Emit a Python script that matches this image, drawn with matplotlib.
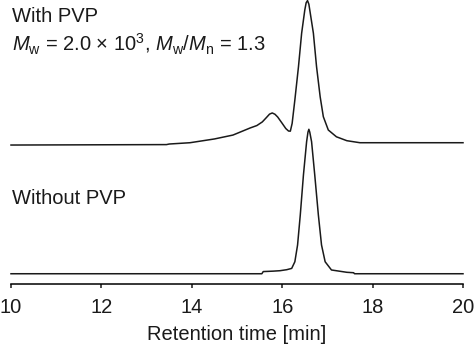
import numpy as np
import matplotlib.pyplot as plt

plt.rcParams['font.family'] = ['Liberation Sans', 'DejaVu Sans']
plt.rcParams['mathtext.fontset'] = 'custom'
plt.rcParams['mathtext.rm'] = 'Liberation Sans'
plt.rcParams['mathtext.it'] = 'Liberation Sans:italic'

# retention time [min] and normalised detector signal
t_with = [10.0, 13.44, 13.5, 13.96, 14.5, 14.91, 15.29, 15.44, 15.56, 15.65, 15.72,
          15.78, 15.84, 15.9, 16.0, 16.08, 16.14, 16.18, 16.22, 16.28, 16.36, 16.43,
          16.50, 16.53, 16.56, 16.59, 16.61, 16.69, 16.76, 16.84, 16.91, 17.02,
          17.2, 17.43, 17.72, 20.0]
s_with = [0.0, 0.003, 0.007, 0.016, 0.042, 0.069, 0.118, 0.135, 0.16, 0.19, 0.214,
          0.222, 0.213, 0.194, 0.15, 0.114, 0.097, 0.096, 0.15, 0.312, 0.542, 0.774,
          0.935, 0.985, 1.0, 0.975, 0.935, 0.774, 0.542, 0.334, 0.196, 0.104,
          0.057, 0.030, 0.016, 0.016]

t_without = [10.0, 15.55, 15.58, 15.8, 15.95, 16.1, 16.21, 16.28, 16.34, 16.40, 16.47,
             16.54, 16.57, 16.59, 16.61, 16.65, 16.72, 16.80, 16.87, 16.95, 17.09,
             17.43, 17.58, 17.6, 20.0]
s_without = [0.0, 0.0, 0.015, 0.018, 0.021, 0.028, 0.037, 0.083, 0.199, 0.407, 0.684,
             0.914, 0.98, 1.0, 0.98, 0.914, 0.684, 0.407, 0.199, 0.083, 0.026,
             0.01, 0.007, 0.0, 0.0]

offset = 0.891

fig = plt.figure(figsize=(4.74, 3.47), dpi=100)
ax = fig.add_axes([11 / 474, 63 / 347, 452 / 474, 284 / 347])

ax.plot(t_with, np.array(s_with) + offset, color='#1a1a1a', lw=1.1, clip_on=False)
ax.plot(t_without, s_without, color='#1a1a1a', lw=1.1, clip_on=False)

ax.set_xlim(10, 20)
ax.set_ylim(-0.071, 1.895)
ax.set_xticks([10, 12, 14, 16, 18, 20])
ax.set_yticks([])
for side in ['left', 'top', 'right']:
    ax.spines[side].set_visible(False)
ax.spines['bottom'].set_linewidth(1.1)
ax.tick_params(axis='x', direction='out', length=3, width=1.1, labelsize=14.5, pad=7, colors='#1a1a1a')
ax.set_xlabel('Retention time [min]', fontsize=14.5, color='#1a1a1a', labelpad=6)

ax.text(10.02, 1.78, 'With PVP', fontsize=14.5, color='#1a1a1a', va='center')
ax.text(10.02, 1.585, r'$M_\mathrm{w}$ = 2.0 $\times$ 10$^3$, $M_\mathrm{w}$/$M_\mathrm{n}$ = 1.3',
        fontsize=14.5, color='#1a1a1a', va='center')
ax.text(10.02, 0.52, 'Without PVP', fontsize=14.5, color='#1a1a1a', va='center')

fig.savefig('out.png', dpi=100)
